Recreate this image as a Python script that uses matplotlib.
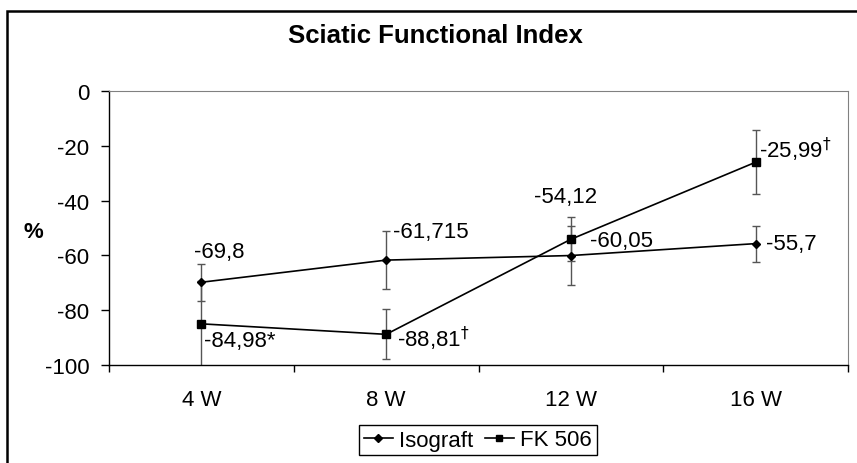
import matplotlib
matplotlib.use("Agg")
import matplotlib.pyplot as plt
from matplotlib.patches import Rectangle

plt.rcParams['font.family'] = ['Liberation Sans', 'DejaVu Sans']
plt.rcParams['axes.unicode_minus'] = False

# data
weeks = ['4 W', '8 W', '12 W', '16 W']
isograft = [-69.8, -61.715, -60.05, -55.7]
isograft_err = [6.7, 10.5, 10.7, 6.6]
fk506 = [-84.98, -88.81, -54.12, -25.99]
fk506_err = [15.5, 9.1, 8.0, 11.7]

isograft_labels = ['-69,8', '-61,715', '-60,05', '-55,7']
fk506_labels = ['-84,98*', r'-88,81$^{\dagger}$', '-54,12', r'-25,99$^{\dagger}$']

# label offsets in pixels (dx, dy up), ha
iso_offsets = [(-7, 31, 'left'), (7, 29, 'left'), (19, 15, 'left'), (10, 0, 'left')]
fk_offsets = [(3, -17, 'left'), (11, -4, 'left'), (-5, 43, 'center'), (3, 13, 'left')]

W, H = 857, 464
fig = plt.figure(figsize=(W / 100, H / 100), dpi=100)
ax = fig.add_axes([109 / W, 1 - 366 / H, (848 - 109) / W, (366 - 92) / H])

x = list(range(len(weeks)))

ax.errorbar(x, isograft, yerr=isograft_err, fmt='none', ecolor='#555555',
            elinewidth=1.0, capsize=3, capthick=1.0, zorder=2)
ax.errorbar(x, fk506, yerr=fk506_err, fmt='none', ecolor='#555555',
            elinewidth=1.0, capsize=3, capthick=1.0, zorder=2)
ax.plot(x, isograft, color='black', lw=1.2, marker='D', markersize=4.5,
        label='Isograft', zorder=3)
ax.plot(x, fk506, color='black', lw=1.2, marker='s', markersize=6,
        label='FK 506', zorder=3)

fs = 16
for xi, yi, lab, (dx, dy, ha) in zip(x, isograft, isograft_labels, iso_offsets):
    ax.annotate(lab, (xi, yi), xytext=(dx * 0.72, dy * 0.72), textcoords='offset points',
                ha=ha, va='center', fontsize=fs, zorder=4)
for xi, yi, lab, (dx, dy, ha) in zip(x, fk506, fk506_labels, fk_offsets):
    ax.annotate(lab, (xi, yi), xytext=(dx * 0.72, dy * 0.72), textcoords='offset points',
                ha=ha, va='center', fontsize=fs, zorder=4)

ax.set_xlim(-0.5, 3.5)
ax.set_ylim(-100, 0)
ax.set_yticks([0, -20, -40, -60, -80, -100])
ax.set_xticks(x)
ax.set_xticklabels(weeks)
ax.set_xticks([-0.5, 0.5, 1.5, 2.5, 3.5], minor=True)
ax.tick_params(axis='x', which='major', length=0, pad=17, labelsize=fs)
ax.tick_params(axis='x', which='minor', length=5, width=1, color='black')
ax.tick_params(axis='y', length=6, width=1, pad=8, labelsize=fs, color='black')

ax.spines['top'].set_color('#808080')
ax.spines['right'].set_color('#808080')
ax.spines['left'].set_linewidth(1.0)
ax.spines['bottom'].set_linewidth(1.0)

fig.text(435 / W, 1 - 36 / H, 'Sciatic Functional Index', ha='center', va='center',
         fontsize=18.5, fontweight='bold')
fig.text(33 / W, 1 - 233 / H, '%', ha='center', va='center', fontsize=16,
         fontweight='bold')

fig.legend(loc='center', bbox_to_anchor=(478 / W, 1 - 441 / H), ncol=2,
           fontsize=fs, frameon=True, fancybox=False, edgecolor='black',
           framealpha=1, handlelength=1.3, handletextpad=0.3,
           columnspacing=0.5, borderpad=0.2, borderaxespad=0,
           markerscale=0.8)

# outer chart border (left and top visible)
fig.add_artist(Rectangle((7 / W, -0.05), 1.0, 1 - 12 / H + 0.05,
                         transform=fig.transFigure, fill=False, lw=1.8,
                         ec='black'))

fig.savefig('out.png', dpi=100)
